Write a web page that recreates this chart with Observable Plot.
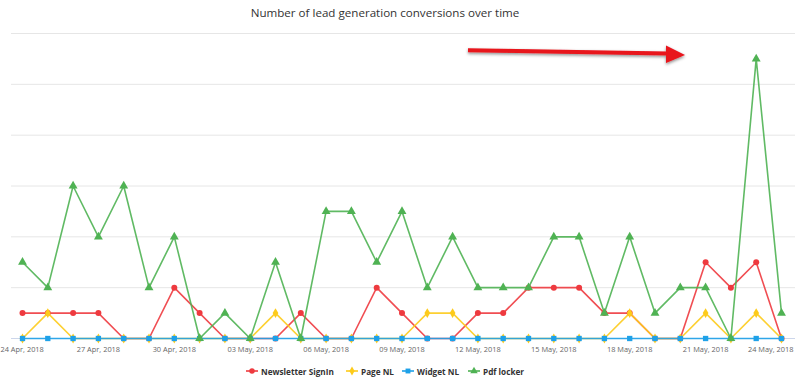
<!DOCTYPE html>
<html><head><meta charset="utf-8">
<script src="https://cdn.jsdelivr.net/npm/d3@7"></script>
<script src="https://cdn.jsdelivr.net/npm/@observablehq/plot@0.6"></script>
<style>
body{margin:0;background:#fff;font-family:"Open Sans",sans-serif;}
#wrap{position:relative;width:800px;height:382px;overflow:hidden;background:#fff}
#title{position:absolute;top:5px;left:-15px;width:800px;text-align:center;font-size:11.6px;color:#333;}
#chart{position:absolute;top:0;left:0}
#legend span{position:absolute;top:365px;height:12px;display:flex;align-items:center;gap:3px;font-size:8.2px;font-weight:bold;color:#333;white-space:nowrap}
#arrow{position:absolute;top:0;left:0;pointer-events:none}
</style></head>
<body><div id="wrap"><div id="chart"></div><div id="title">Number of lead generation conversions over time</div><div id="legend"></div>
<svg id="arrow" width="800" height="382"><defs><filter id="sh" x="-10%" y="-50%" width="120%" height="200%"><feDropShadow dx="0" dy="1.5" stdDeviation="1.6" flood-color="#000" flood-opacity="0.45"/></filter></defs>
<g filter="url(#sh)" fill="#e8141b"><path d="M468,48.2 L667,51.6 L667,55.6 L468,52.2 Z"/><path d="M666,45.5 L685,55 L666,63 Z"/></g></svg>
</div>
<script>
const dates = ["2018-04-24","2018-04-25","2018-04-26","2018-04-27","2018-04-28","2018-04-29","2018-04-30","2018-05-01","2018-05-02","2018-05-03","2018-05-04","2018-05-05","2018-05-06","2018-05-07","2018-05-08","2018-05-09","2018-05-10","2018-05-11","2018-05-12","2018-05-13","2018-05-14","2018-05-15","2018-05-16","2018-05-17","2018-05-18","2018-05-19","2018-05-20","2018-05-21","2018-05-22","2018-05-23","2018-05-24"];
const newsletterSignIn = [1,1,1,1,0,0,2,1,0,0,0,1,0,0,2,1,0,0,1,1,2,2,2,1,1,0,0,3,2,3,0];
const pageNL = [0,1,0,0,0,0,0,0,0,0,1,0,0,0,0,0,1,1,0,0,0,0,0,0,1,0,0,1,0,1,0];
const widgetNL = [0,0,0,0,0,0,0,0,0,0,0,0,0,0,0,0,0,0,0,0,0,0,0,0,0,0,0,0,0,0,0];
const pdfLocker = [3,2,6,4,6,2,4,0,1,0,3,0,5,5,3,5,2,4,2,2,2,4,4,1,4,1,2,2,0,11,1];
const tickDates = ["2018-04-24","2018-04-27","2018-04-30","2018-05-03","2018-05-06","2018-05-09","2018-05-12","2018-05-15","2018-05-18","2018-05-21","2018-05-24"];
const yTicks = [0,2,4,6,8,10,12];
const seriesNames = ["Newsletter SignIn","Page NL","Widget NL","Pdf locker"];
const seriesColors = ["#ee3a3f","#fdcb1b","#1ea1e8","#4fb253"];
const seriesSymbols = ["circle","diamond","square","triangle"];
const seriesValues = [newsletterSignIn,pageNL,widgetNL,pdfLocker];

const parse = d3.utcParse("%Y-%m-%d");
const fmt = d3.utcFormat("%d %b, %Y");
const series = seriesNames.map((name,k)=>({name,color:seriesColors[k],symbol:seriesSymbols[k],
  data:dates.map((d,i)=>({date:parse(d),value:seriesValues[k][i]}))}));
const ticks = tickDates.map(parse);

const labelOpts = {x:d=>d, text:d=>fmt(d), frameAnchor:"bottom", dy:11, lineAnchor:"middle", fill:"#666", fontSize:7.4};
const marks = [
  Plot.ruleY(yTicks.slice(1), {stroke:"#e6e6e6", insetLeft:-11, insetRight:-14}),
  Plot.ruleY([0], {stroke:"#ccd6eb", insetLeft:-11, insetRight:-14}),
  Plot.text(ticks.slice(0,1), {...labelOpts, dx:-22, textAnchor:"start"}),
  Plot.text(ticks.slice(1,-1), labelOpts),
  Plot.text(ticks.slice(-1), {...labelOpts, dx:12, textAnchor:"end"}),
];
for (const s of series) {
  marks.push(Plot.line(s.data, {x:"date", y:"value", stroke:s.color, strokeWidth:1.6, strokeOpacity:0.9}));
  marks.push(Plot.dot(s.data, {x:"date", y:"value", fill:s.color, symbol:()=>s.symbol, r: s.symbol==="triangle"?3.3:3}));
}
const chart = Plot.plot({
  width:800, height:382, marginTop:33, marginBottom:44, marginLeft:22, marginRight:19,
  x:{type:"utc", domain:[parse(dates[0]), parse(dates[dates.length-1])], axis:null},
  y:{domain:[0,12], axis:null},
  symbol:{type:"identity"},
  style:{fontFamily:"Open Sans", background:"#fff"},
  marks
});
document.getElementById("chart").appendChild(chart);

const legend = document.getElementById("legend");
const legendLeft = [246, 346, 402, 468];
series.forEach((s,k) => {
  const item = document.createElement("span");
  item.style.left = legendLeft[k] + "px";
  const sym = d3.symbol(s.symbol==="circle"?d3.symbolCircle:s.symbol==="diamond"?d3.symbolDiamond:s.symbol==="square"?d3.symbolSquare:d3.symbolTriangle, 24)();
  item.innerHTML = `<svg width="12" height="10"><line x1="0" x2="12" y1="5" y2="5" stroke="${s.color}" stroke-width="1.6"/><path d="${sym}" transform="translate(6,5)" fill="${s.color}"/></svg>${s.name}`;
  legend.appendChild(item);
});
</script></body></html>
